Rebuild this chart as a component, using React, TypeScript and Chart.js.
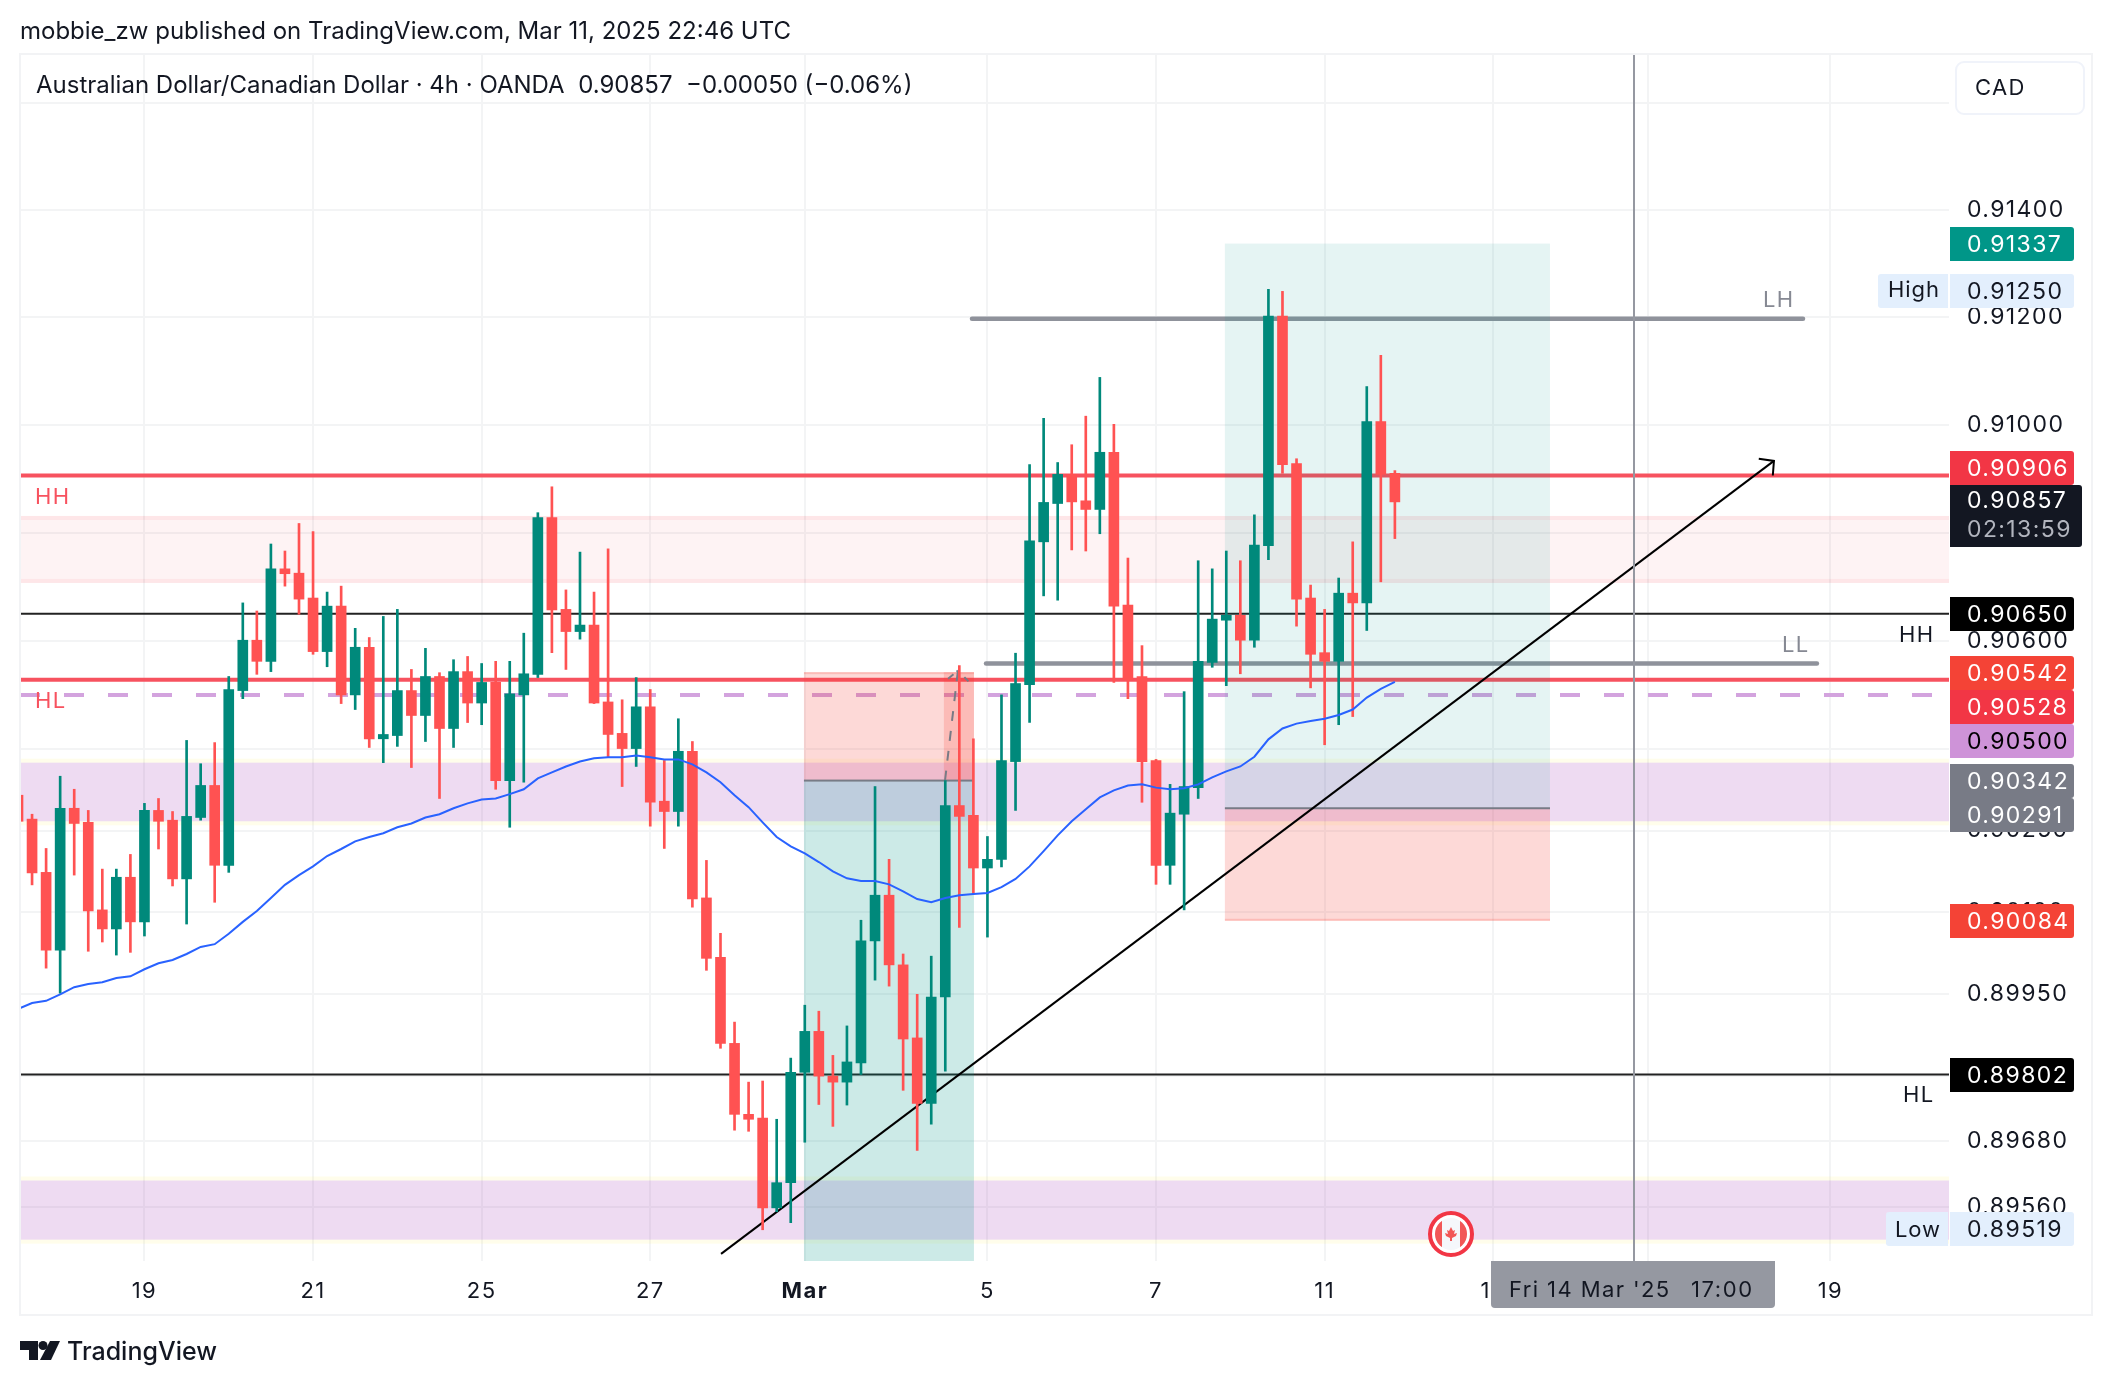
import React, { useEffect, useRef } from "react";
import Chart from "chart.js/auto";

const highs = [
  0.90326, 0.9028, 0.90217, 0.9035, 0.90326, 0.90287, 0.90179, 0.90179, 0.90206, 0.903,
  0.90309, 0.90285, 0.90416, 0.90373, 0.90412, 0.90534, 0.9067, 0.90655, 0.90779, 0.90766,
  0.90817, 0.90802, 0.9069, 0.90701, 0.90623, 0.90606, 0.90645, 0.90658, 0.90547, 0.90586,
  0.90541, 0.90565, 0.90571, 0.90558, 0.90562, 0.90562, 0.90614, 0.90837, 0.90885, 0.90694,
  0.90764, 0.9069, 0.9077, 0.90491, 0.90532, 0.9051, 0.90379, 0.90456, 0.90414, 0.90195,
  0.90061, 0.89898, 0.89788, 0.8979, 0.8972, 0.89832, 0.89929, 0.89918, 0.89837, 0.89891,
  0.90085, 0.90331, 0.90197, 0.90023, 0.89949, 0.90019, 0.90342, 0.90554, 0.90419, 0.90239,
  0.905, 0.90577, 0.90926, 0.91012, 0.9093, 0.90963, 0.91016, 0.91088, 0.91001, 0.90753,
  0.90591, 0.90381, 0.90335, 0.90506, 0.90748, 0.90733, 0.90766, 0.90748, 0.90833, 0.91252,
  0.91248, 0.90937, 0.90703, 0.90658, 0.90716, 0.90783, 0.91071, 0.91129, 0.90915,
];
const opens = [
  0.90315, 0.90271, 0.90173, 0.9003, 0.90291, 0.90265, 0.90104, 0.90069, 0.90164, 0.90082,
  0.90287, 0.90269, 0.90161, 0.90274, 0.90333, 0.90186, 0.90508, 0.90601, 0.90562, 0.90733,
  0.90725, 0.90679, 0.9058, 0.90664, 0.905, 0.90588, 0.90419, 0.90425, 0.90508, 0.90462,
  0.90534, 0.90438, 0.90543, 0.90485, 0.90523, 0.90342, 0.905, 0.90538, 0.90828, 0.90658,
  0.90617, 0.90629, 0.90487, 0.90429, 0.90401, 0.90478, 0.90304, 0.90285, 0.90396, 0.90126,
  0.90017, 0.89859, 0.89729, 0.89722, 0.89558, 0.89604, 0.89806, 0.89881, 0.89799, 0.89788,
  0.89823, 0.90047, 0.90131, 0.90003, 0.89869, 0.89749, 0.89944, 0.90296, 0.90278, 0.90181,
  0.90197, 0.90377, 0.90519, 0.90783, 0.90854, 0.90908, 0.90859, 0.90843, 0.90949, 0.90666,
  0.90534, 0.90379, 0.90186, 0.9028, 0.90329, 0.9056, 0.90638, 0.90647, 0.90601, 0.90776,
  0.91202, 0.90928, 0.90679, 0.90578, 0.90562, 0.90688, 0.9067, 0.91006, 0.9091,
];
const closes = [
  0.90267, 0.90172, 0.9003, 0.90291, 0.90263, 0.90102, 0.90069, 0.90164, 0.90082, 0.90287,
  0.90267, 0.90161, 0.90276, 0.90333, 0.90186, 0.9051, 0.90601, 0.90562, 0.90733, 0.90724,
  0.90677, 0.9058, 0.90664, 0.905, 0.90588, 0.90419, 0.90427, 0.90508, 0.90462, 0.90534,
  0.90438, 0.90543, 0.90485, 0.90523, 0.90342, 0.90502, 0.90539, 0.90828, 0.90657, 0.90617,
  0.90629, 0.90485, 0.90427, 0.90401, 0.90478, 0.90302, 0.90285, 0.90396, 0.90124, 0.90015,
  0.89859, 0.89729, 0.8972, 0.89558, 0.89604, 0.89806, 0.89881, 0.89799, 0.89788, 0.89825,
  0.90047, 0.90131, 0.90003, 0.89867, 0.89749, 0.89944, 0.90296, 0.90276, 0.90181, 0.90197,
  0.90379, 0.90521, 0.90785, 0.90856, 0.90908, 0.90857, 0.90843, 0.90949, 0.90664, 0.90528,
  0.90377, 0.90186, 0.90282, 0.90331, 0.90562, 0.9064, 0.90647, 0.90601, 0.90777, 0.91202,
  0.90926, 0.90677, 0.90575, 0.90562, 0.90688, 0.9067, 0.91006, 0.90908, 0.90857,
];
const lows = [
  0.9026, 0.9015, 0.89997, 0.89951, 0.90168, 0.90028, 0.90045, 0.90021, 0.90026, 0.90056,
  0.90216, 0.90148, 0.90078, 0.90269, 0.90118, 0.90173, 0.90493, 0.90538, 0.90543, 0.90701,
  0.90649, 0.90575, 0.90552, 0.90484, 0.90473, 0.90403, 0.90375, 0.90405, 0.90366, 0.90414,
  0.90309, 0.90403, 0.90449, 0.90445, 0.90326, 0.90256, 0.90339, 0.90532, 0.90578, 0.90547,
  0.90603, 0.90484, 0.90385, 0.90331, 0.90368, 0.90258, 0.90217, 0.90258, 0.90109, 0.89993,
  0.8985, 0.897, 0.89698, 0.89518, 0.89551, 0.89531, 0.89678, 0.89747, 0.89707, 0.89746,
  0.89802, 0.89975, 0.89964, 0.89773, 0.89663, 0.89711, 0.89808, 0.90072, 0.90133, 0.90054,
  0.90183, 0.90287, 0.90449, 0.90683, 0.90675, 0.90768, 0.90766, 0.90798, 0.90523, 0.90493,
  0.90302, 0.90151, 0.90151, 0.90104, 0.90309, 0.90551, 0.90517, 0.90539, 0.90588, 0.9075,
  0.9091, 0.90627, 0.90513, 0.90408, 0.90445, 0.9046, 0.90619, 0.90709, 0.90789,
];
const movingAverage = [
  0.89922, 0.89933, 0.89937, 0.89949, 0.89962, 0.89968, 0.89971, 0.89979, 0.89982, 0.89995,
  0.90006, 0.90012, 0.90023, 0.90036, 0.90041, 0.9006, 0.90082, 0.90102, 0.90126, 0.9015,
  0.90168, 0.90184, 0.90203, 0.90216, 0.9023, 0.90238, 0.90245, 0.90256, 0.90263, 0.90274,
  0.9028, 0.90291, 0.903, 0.90307, 0.90309, 0.90317, 0.90326, 0.90346, 0.90357, 0.90368,
  0.90377, 0.90383, 0.90385, 0.90385, 0.90388, 0.90385, 0.90381, 0.90381, 0.90372, 0.90357,
  0.90339, 0.90315, 0.90293, 0.90265, 0.90238, 0.90221, 0.90208, 0.90192, 0.90175, 0.90162,
  0.90157, 0.90157, 0.90151, 0.90138, 0.90124, 0.90118, 0.90126, 0.90131, 0.90133, 0.90135,
  0.90146, 0.90161, 0.90184, 0.90212, 0.90241, 0.90267, 0.90289, 0.90311, 0.90324, 0.90333,
  0.90335, 0.90329, 0.90326, 0.90328, 0.90335, 0.90348, 0.90359, 0.90368, 0.90386, 0.90418,
  0.90438, 0.90447, 0.90452, 0.90456, 0.90463, 0.90473, 0.90495, 0.90511, 0.90524,
];

const priceTicks = [0.916, 0.914, 0.912, 0.91, 0.908, 0.906, 0.904, 0.9025, 0.901, 0.8995, 0.898, 0.8968, 0.8956];
const dateTickBars = [9, 21, 33, 45, 56, 69, 81, 93, 105, 116, 129];
const dateTickLabels = ["19", "21", "25", "27", "Mar", "5", "7", "11", "13", "17", "19"];

const redLevels = [0.90906, 0.90528];
const blackLevels = [0.9065, 0.89802];
const dashedLevel = 0.905;

// [firstBar, lastBar, price]
const grayLevels = [
  [67.9, 127.05, 0.91197],
  [68.9, 128.04, 0.90558],
];
const trendX = [50.04, 124.98];
const trendY = [0.89474, 0.90933];
const arrowHeadX = [123.9, 124.98, 124.9];
const arrowHeadY = [0.90937, 0.90933, 0.90906];
const dashArrowX = [65.98, 66.9, 67.65];
const dashArrowY = [0.90342, 0.90545, 0.90525];
const dashArrowHeadX = [66.2, 66.9];
const dashArrowHeadY = [0.9053, 0.90545];
const crosshairBar = 115.02;

// [upper price, lower price]
const pinkZone = [0.90831, 0.90707];
const purpleZones = [
  [0.90375, 0.90267],
  [0.89608, 0.895],
];
// [firstBar, lastBar, top, entry, bottom]
const longOne = [55.94, 68.04, 0.90542, 0.90342, 0.894];
const longOneRetest = [65.9, 68.04, 0.90542, 0.90342];
const longTwo = [85.9, 109.04, 0.91337, 0.90291, 0.90084];

const headerLine = "mobbie_zw published on TradingView.com, Mar 11, 2025 22:46 UTC";
const legendLine = "Australian Dollar/Canadian Dollar · 4h · OANDA  0.90857  −0.00050 (−0.06%)";
const badgeValues = ["0.91337", "0.91250", "0.90906", "0.90650", "0.90542", "0.90528", "0.90500", "0.90342", "0.90291", "0.90084", "0.89802", "0.89519"];

const X_MIN = 0.142;
const X_MAX = 137.44;
const Y_MIN = 0.89461;
const Y_MAX = 0.91689;
const UP = "#00897b";
const DOWN = "#ff5252";
const FONT = "Inter, 'Noto Sans', sans-serif";
const INK = "#131722";

const badgeStyle = [
  { top: 227, h: 34, bg: "#009688", fg: "#ffffff" },
  { top: 274, h: 34, bg: "#e3effd", fg: INK },
  { top: 451, h: 34, bg: "#f23645", fg: "#ffffff" },
  { top: 597, h: 34, bg: "#000000", fg: "#ffffff" },
  { top: 656, h: 34, bg: "#f44336", fg: "#ffffff" },
  { top: 690, h: 34, bg: "#f23645", fg: "#ffffff" },
  { top: 724, h: 34, bg: "#ce93d8", fg: "#000000" },
  { top: 764, h: 34, bg: "#787b86", fg: "#ffffff" },
  { top: 798, h: 34, bg: "#787b86", fg: "#ffffff" },
  { top: 904, h: 34, bg: "#f44336", fg: "#ffffff" },
  { top: 1058, h: 34, bg: "#000000", fg: "#ffffff" },
  { top: 1212, h: 34, bg: "#e3effd", fg: INK },
];

function roundRect(ctx: CanvasRenderingContext2D, x: number, y: number, w: number, h: number, r: number | number[]) {
  ctx.beginPath();
  ctx.roundRect(x, y, w, h, r);
}

function text(
  ctx: CanvasRenderingContext2D,
  s: string,
  x: number,
  y: number,
  font: string,
  color: string,
  align: CanvasTextAlign = "left",
  spacing = 0
) {
  ctx.font = font;
  ctx.fillStyle = color;
  ctx.textAlign = align;
  ctx.textBaseline = "middle";
  (ctx as any).letterSpacing = `${spacing}px`;
  ctx.fillText(s, x, y);
  (ctx as any).letterSpacing = "0px";
}

function drawBands(chart: any) {
  const { ctx, chartArea: a, scales } = chart;
  const y = scales.y;
  ctx.save();
  ctx.beginPath();
  ctx.rect(a.left, a.top, a.right - a.left, a.bottom - a.top);
  ctx.clip();
  const w = a.right - a.left;
  const pt = y.getPixelForValue(pinkZone[0]);
  const pb = y.getPixelForValue(pinkZone[1]);
  ctx.fillStyle = "rgba(242,54,69,0.06)";
  ctx.fillRect(a.left, pt, w, pb - pt);
  ctx.fillStyle = "rgba(242,54,69,0.07)";
  ctx.fillRect(a.left, pt, w, 4);
  ctx.fillRect(a.left, pb - 4, w, 4);
  for (const [hi, lo] of purpleZones) {
    const t = y.getPixelForValue(hi);
    const b = y.getPixelForValue(lo);
    ctx.fillStyle = "rgba(255,235,59,0.1)";
    ctx.fillRect(a.left, t - 4, w, 4);
    ctx.fillRect(a.left, b, w, 4);
    ctx.fillStyle = "rgba(156,39,176,0.17)";
    ctx.fillRect(a.left, t, w, b - t);
  }
  ctx.restore();
}

function drawPositions(chart: any) {
  const { ctx, chartArea: a, scales } = chart;
  const x = scales.x;
  const y = scales.y;
  ctx.save();
  ctx.beginPath();
  ctx.rect(a.left, a.top, a.right - a.left, a.bottom - a.top);
  ctx.clip();
  const RED = "rgba(244,67,54,0.2)";
  const box = (x0: number, x1: number, p0: number, p1: number, fill: string) => {
    const l = x.getPixelForValue(x0);
    const r = x.getPixelForValue(x1);
    const t = y.getPixelForValue(p0);
    const b = y.getPixelForValue(p1);
    ctx.fillStyle = fill;
    ctx.fillRect(l, t, r - l, b - t);
  };
  const [a0, a1, aTop, aEntry, aBottom] = longOne;
  box(a0, a1, aTop, aEntry, RED);
  box(a0, a1, aEntry, aBottom, "rgba(0,150,136,0.2)");
  box(longOneRetest[0], longOneRetest[1], longOneRetest[2], longOneRetest[3], "rgba(244,67,54,0.2)");
  const [b0, b1, bTop, bEntry, bBottom] = longTwo;
  box(b0, b1, bTop, bEntry, "rgba(0,150,136,0.1)");
  box(b0, b1, bEntry, bBottom, RED);
  ctx.fillStyle = "rgba(244,67,54,0.2)";
  const l2 = x.getPixelForValue(b0);
  ctx.fillRect(l2, y.getPixelForValue(bBottom) - 2, x.getPixelForValue(b1) - l2, 2);
  const l1 = x.getPixelForValue(a0);
  ctx.fillRect(l1, y.getPixelForValue(aTop), x.getPixelForValue(a1) - l1, 2);
  ctx.fillStyle = "#787b86";
  ctx.fillRect(l1, y.getPixelForValue(aEntry) - 1, x.getPixelForValue(a1) - l1, 2);
  ctx.fillRect(l2, y.getPixelForValue(bEntry) - 1, x.getPixelForValue(b1) - l2, 2);
  ctx.restore();
}

function drawFlag(ctx: CanvasRenderingContext2D, cx: number, cy: number) {
  ctx.save();
  ctx.beginPath();
  ctx.arc(cx, cy, 21, 0, Math.PI * 2);
  ctx.fillStyle = "#ffffff";
  ctx.fill();
  ctx.lineWidth = 4;
  ctx.strokeStyle = "#f23645";
  ctx.stroke();
  ctx.beginPath();
  ctx.arc(cx, cy, 16, 0, Math.PI * 2);
  ctx.clip();
  ctx.fillStyle = "#f5f7fb";
  ctx.fillRect(cx - 16, cy - 16, 32, 32);
  ctx.fillStyle = "#f25757";
  ctx.fillRect(cx - 16, cy - 16, 7, 32);
  ctx.fillRect(cx + 9, cy - 16, 7, 32);
  const leaf = [[0, -7], [2, -3], [4, -4], [3, 0], [6, -1], [5, 2], [1, 4], [1, 7], [-1, 7], [-1, 4], [-5, 2], [-6, -1], [-3, 0], [-4, -4], [-2, -3]];
  ctx.beginPath();
  leaf.forEach(([dx, dy], i) => (i ? ctx.lineTo(cx + dx, cy + dy) : ctx.moveTo(cx + dx, cy + dy)));
  ctx.closePath();
  ctx.fill();
  ctx.restore();
}

function drawLogo(ctx: CanvasRenderingContext2D) {
  ctx.save();
  ctx.fillStyle = INK;
  const poly = (pts: number[][]) => {
    ctx.beginPath();
    pts.forEach(([x, y], i) => (i ? ctx.lineTo(x, y) : ctx.moveTo(x, y)));
    ctx.closePath();
    ctx.fill();
  };
  poly([[20, 1341], [38, 1341], [38, 1360], [29, 1360], [29, 1350], [20, 1350]]);
  ctx.beginPath();
  ctx.arc(43, 1345.5, 4.5, 0, Math.PI * 2);
  ctx.fill();
  poly([[50, 1341], [60, 1341], [51, 1360], [40, 1360]]);
  text(ctx, "TradingView", 67, 1352, `500 25px ${FONT}`, INK);
  ctx.restore();
}

function drawOverlay(chart: any) {
  const { ctx, chartArea: a } = chart;
  ctx.save();
  ctx.strokeStyle = "#f2f3f5";
  ctx.lineWidth = 2;
  ctx.strokeRect(20, 54, 2072, 1261);

  // CAD button
  ctx.fillStyle = "#ffffff";
  roundRect(ctx, 1956, 62, 128, 52, 8);
  ctx.fill();
  ctx.strokeStyle = "#f0f3fa";
  ctx.lineWidth = 2;
  ctx.stroke();
  text(ctx, "CAD", 1975, 88, `22px ${FONT}`, INK, "left", 1.4);

  // header and legend
  text(ctx, headerLine, 20, 32, `24px ${FONT}`, INK);
  text(ctx, legendLine, 36, 86, `24px ${FONT}`, INK);

  // drawing labels
  const label = `22px ${FONT}`;
  text(ctx, "HH", 35, 497, label, "#f7525f", "left", 1.4);
  text(ctx, "HL", 35, 701, label, "#f7525f", "left", 1.4);
  text(ctx, "HH", 1899, 635, label, INK, "left", 1.4);
  text(ctx, "HL", 1903, 1095, label, INK, "left", 1.4);
  text(ctx, "LH", 1763, 300, label, "#868993", "left", 1.4);
  text(ctx, "LL", 1782, 645, label, "#868993", "left", 1.4);

  drawFlag(ctx, 1451, 1234);

  // price badges
  badgeValues.forEach((v, i) => {
    const s = badgeStyle[i];
    ctx.fillStyle = s.bg;
    roundRect(ctx, 1950, s.top, 124, s.h, [0, 3, 3, 0]);
    ctx.fill();
    text(ctx, v, 1967, s.top + s.h / 2 + 1, `23px ${FONT}`, s.fg, "left", 1.4);
  });
  // current price with countdown
  ctx.fillStyle = "#131722";
  roundRect(ctx, 1950, 485, 132, 62, [0, 3, 3, 0]);
  ctx.fill();
  text(ctx, "0.90857", 1967, 501, `23px ${FONT}`, "#ffffff", "left", 1.4);
  text(ctx, "02:13:59", 1967, 530, `23px ${FONT}`, "#b2b5be", "left", 1.4);
  // High / Low tags
  ctx.fillStyle = "#e3effd";
  roundRect(ctx, 1878, 274, 70, 34, [3, 0, 0, 3]);
  ctx.fill();
  roundRect(ctx, 1886, 1212, 62, 34, [3, 0, 0, 3]);
  ctx.fill();
  text(ctx, "High", 1914, 290, `22px ${FONT}`, INK, "center", 1);
  text(ctx, "Low", 1918, 1230, `22px ${FONT}`, INK, "center", 1);

  // crosshair time label
  ctx.fillStyle = "#9598a1";
  roundRect(ctx, 1491, a.bottom, 284, 47, [0, 0, 4, 4]);
  ctx.fill();
  text(ctx, "Fri 14 Mar '25", 1509, 1290, `22px ${FONT}`, INK, "left", 1.4);
  text(ctx, "17:00", 1691, 1290, `22px ${FONT}`, INK, "left", 1.6);

  drawLogo(ctx);
  ctx.restore();
}

function line(points: { x: number; y: number }[], color: string, width: number, order: number, extra: object = {}) {
  return {
    type: "line" as const,
    data: points,
    borderColor: color,
    borderWidth: width,
    pointRadius: 0,
    tension: 0,
    order,
    ...extra,
  };
}

export default function App() {
  const ref = useRef<HTMLCanvasElement>(null);
  useEffect(() => {
    const up = closes.map((c, i) => c >= opens[i]);
    const colors = up.map((u) => (u ? UP : DOWN));
    const datasets: any[] = [];
    redLevels.forEach((p) => {
      datasets.push(line([{ x: X_MIN, y: p }, { x: X_MAX, y: p }], "#f7525f", 4, 20));
    });
    blackLevels.forEach((p) => {
      datasets.push(line([{ x: X_MIN, y: p }, { x: X_MAX, y: p }], "#222222", 2, 20));
    });
    datasets.push(
      line([{ x: X_MIN, y: dashedLevel }, { x: X_MAX, y: dashedLevel }], "#d3a3de", 4, 20, { borderDash: [20, 24] })
    );
    grayLevels.forEach(([a, b, p]) => {
      datasets.push(line([{ x: a, y: p }, { x: b, y: p }], "#8f929b", 4.5, 20, { borderCapStyle: "round" }));
    });
    const hookIndex = datasets.length;
    datasets.push(line(trendX.map((x, i) => ({ x, y: trendY[i] })), "#000000", 2, 10));
    datasets.push(line(arrowHeadX.map((x, i) => ({ x, y: arrowHeadY[i] })), "#000000", 2, 9));
    datasets.push(
      line(dashArrowX.map((x, i) => ({ x, y: dashArrowY[i] })), "#787b86", 2, 8, { borderDash: [10, 10] })
    );
    datasets.push(
      line(dashArrowHeadX.map((x, i) => ({ x, y: dashArrowHeadY[i] })), "#787b86", 2, 8, { borderDash: [7, 4] })
    );
    datasets.push(
      line([{ x: crosshairBar, y: Y_MIN }, { x: crosshairBar, y: Y_MAX }], "#9598a1", 2, 7)
    );
    datasets.push({
      type: "bar",
      data: highs.map((h, i) => ({ x: i, y: [lows[i], h] })),
      backgroundColor: colors,
      barThickness: 2,
      grouped: false,
      borderWidth: 0,
      order: 5,
    });
    datasets.push({
      type: "bar",
      data: opens.map((o, i) => ({ x: i, y: [Math.min(o, closes[i]), Math.max(o, closes[i])] })),
      backgroundColor: colors,
      barThickness: 10,
      grouped: false,
      borderWidth: 0,
      order: 4,
    });
    datasets.push(line(movingAverage.map((y, x) => ({ x, y })), "#2962ff", 2, 1));

    const layers = {
      id: "tvLayers",
      beforeDraw(c: any) {
        c.ctx.letterSpacing = "1.4px";
      },
      beforeDatasetsDraw(c: any) {
        drawBands(c);
      },
      beforeDatasetDraw(c: any, args: any) {
        if (args.index === hookIndex) drawPositions(c);
      },
      afterDraw(c: any) {
        c.ctx.letterSpacing = "0px";
        drawOverlay(c);
      },
    };

    const chart = new Chart(ref.current!, {
      type: "bar",
      data: { datasets },
      plugins: [layers],
      options: {
        animation: false,
        responsive: false,
        devicePixelRatio: 1,
        events: [],
        layout: { autoPadding: false, padding: { left: 20, top: 55, right: 20, bottom: 71 } },
        plugins: { legend: { display: false }, tooltip: { enabled: false } },
        scales: {
          x: {
            type: "linear",
            min: X_MIN,
            max: X_MAX,
            offset: false,
            afterBuildTicks(s: any) {
              s.ticks = dateTickBars.map((value) => ({ value }));
            },
            afterFit(s: any) {
              s.height = 54;
            },
            grid: { color: "#f3f4f5", lineWidth: 2, drawTicks: false, offset: false },
            border: { display: false },
            ticks: {
              autoSkip: false,
              maxRotation: 0,
              minRotation: 0,
              padding: 17,
              color: INK,
              font: (ctx: any) => ({
                family: FONT,
                size: 22,
                weight: ctx.tick && ctx.tick.value === 56 ? "700" : "400",
              }),
              callback: (v: number) => dateTickLabels[dateTickBars.indexOf(v)] ?? "",
            },
          },
          y: {
            type: "logarithmic",
            position: "right",
            min: Y_MIN,
            max: Y_MAX,
            afterBuildTicks(s: any) {
              s.ticks = priceTicks.map((value) => ({ value }));
            },
            afterFit(s: any) {
              s.width = 143;
            },
            grid: { color: "#f3f4f5", lineWidth: 2, drawTicks: false, offset: false },
            border: { display: false },
            ticks: {
              autoSkip: false,
              padding: 18,
              color: INK,
              crossAlign: "near",
              font: { family: FONT, size: 23 },
              callback: (v: number) => Number(v).toFixed(5),
            },
          },
        },
      } as any,
    });
    return () => chart.destroy();
  }, []);
  return (
    <canvas
      ref={ref}
      width={2112}
      height={1386}
      style={{ position: "absolute", left: 0, top: 0, width: 2112, height: 1386, display: "block" }}
    />
  );
}
